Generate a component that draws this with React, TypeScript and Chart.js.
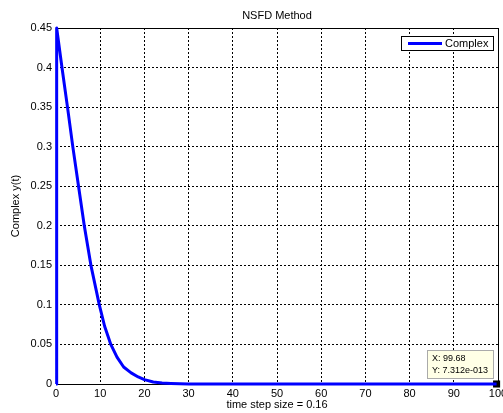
import React, { useEffect, useRef } from "react";
import { Chart, registerables } from "chart.js";

Chart.register(...registerables);

// Data
const timeValues: number[] = [0, 0.15, 1.35, 2.6, 3.8, 5.1, 6.4, 7.9, 9.8, 11, 12.4, 13.8, 15.3, 17, 18.6, 20, 22, 24, 26, 28, 30, 40, 50, 60, 70, 80, 90, 99.68];
const complexValues: number[] = [0, 0.45, 0.4, 0.35, 0.3, 0.25, 0.2, 0.15, 0.1, 0.073, 0.05, 0.034, 0.0215, 0.014, 0.0089, 0.0055, 0.0025, 0.0013, 0.0007, 0.0003, 0.0001, 0, 0, 0, 0, 0, 0, 0];
const tipPoint = { x: 99.68, y: 7.312e-13 };
const tipLines: string[] = ["X: 99.68", "Y: 7.312e-013"];
const titleText = "NSFD Method";
const xLabelText = "time step size = 0.16";
const yLabelText = "Complex y(t)";
const legendLabel = "Complex";

const FONT = "'Liberation Sans', Arial, sans-serif";

const decorPlugin = {
  id: "decor",
  beforeDatasetsDraw(chart: any) {
    const { ctx, chartArea } = chart;
    ctx.save();
    ctx.strokeStyle = "#000";
    ctx.lineWidth = 1;
    ctx.setLineDash([]);
    ctx.strokeRect(Math.round(chartArea.left) + 0.5, Math.round(chartArea.top) + 0.5,
      Math.round(chartArea.right - chartArea.left), Math.round(chartArea.bottom - chartArea.top));
    ctx.restore();
  },
  afterDraw(chart: any) {
    const { ctx, chartArea } = chart;
    const xs = chart.scales.x;
    const ys = chart.scales.y;
    const cx = (chartArea.left + chartArea.right) / 2;
    ctx.save();
    ctx.fillStyle = "#000";
    ctx.font = `11px ${FONT}`;
    ctx.textAlign = "center";
    ctx.textBaseline = "middle";
    ctx.fillText(titleText, cx, 16);
    ctx.fillText(xLabelText, cx, 405);
    ctx.save();
    ctx.translate(16, (chartArea.top + chartArea.bottom) / 2);
    ctx.rotate(-Math.PI / 2);
    ctx.fillText(yLabelText, 0, 0);
    ctx.restore();

    // legend
    const lx = chartArea.right - 97;
    const ly = chartArea.top + 8;
    ctx.fillStyle = "#fff";
    ctx.fillRect(lx + 0.5, ly + 0.5, 92, 14);
    ctx.strokeStyle = "#000";
    ctx.lineWidth = 1;
    ctx.strokeRect(lx + 0.5, ly + 0.5, 92, 14);
    ctx.strokeStyle = "#0000ff";
    ctx.lineWidth = 3;
    ctx.beginPath();
    ctx.moveTo(lx + 7, ly + 7.5);
    ctx.lineTo(lx + 41, ly + 7.5);
    ctx.stroke();
    ctx.fillStyle = "#000";
    ctx.textAlign = "left";
    ctx.fillText(legendLabel, lx + 44, ly + 8);

    // data tip
    const px = xs.getPixelForValue(tipPoint.x);
    const py = ys.getPixelForValue(tipPoint.y);
    const bw = 66, bh = 28;
    const bx = Math.round(px - 4 - bw);
    const by = Math.round(py - 6 - bh);
    ctx.fillStyle = "#ffffe6";
    ctx.fillRect(bx + 0.5, by + 0.5, bw, bh);
    ctx.strokeStyle = "#aaaaaa";
    ctx.lineWidth = 1;
    ctx.strokeRect(bx + 0.5, by + 0.5, bw, bh);
    ctx.fillStyle = "#000";
    ctx.font = `9px ${FONT}`;
    ctx.textAlign = "left";
    ctx.fillText(tipLines[0], bx + 5, by + 9);
    ctx.fillText(tipLines[1], bx + 5, by + 21);
    ctx.restore();
  },
};

export default function App() {
  const canvasRef = useRef<HTMLCanvasElement | null>(null);

  useEffect(() => {
    if (!canvasRef.current) return;
    const points = timeValues.map((t, i) => ({ x: t, y: complexValues[i] }));
    const chart = new Chart(canvasRef.current, {
      type: "line",
      data: {
        datasets: [
          {
            label: legendLabel,
            data: points,
            borderColor: "#0000ff",
            backgroundColor: "#0000ff",
            borderWidth: 3,
            pointRadius: 0,
            tension: 0,
            borderJoinStyle: "round",
            clip: false,
          } as any,
          {
            label: "tip",
            data: [tipPoint],
            showLine: false,
            pointStyle: "rect",
            pointRadius: 5,
            pointBackgroundColor: "#000",
            pointBorderColor: "#000",
            pointBorderWidth: 0,
            clip: false,
          } as any,
        ],
      },
      options: {
        animation: false,
        responsive: true,
        maintainAspectRatio: false,
        layout: { padding: { left: 0, right: 4, top: 28, bottom: 0 } },
        plugins: {
          legend: { display: false },
          title: { display: false },
          tooltip: { enabled: false },
        },
        scales: {
          x: {
            type: "linear",
            min: 0,
            max: 100,
            ticks: {
              stepSize: 10,
              color: "#000",
              padding: 3,
              maxRotation: 0,
              font: { family: FONT, size: 11 },
              callback: (v: any) => String(Math.round(Number(v))),
            },
            grid: { color: "#000", lineWidth: 1, drawTicks: false },
            border: { display: false, dash: [2, 2] },
            afterFit: (scale: any) => {
              scale.height = 29;
              scale.paddingLeft = 0;
              scale.paddingRight = 0;
            },
          },
          y: {
            type: "linear",
            min: 0,
            max: 0.45,
            ticks: {
              stepSize: 0.05,
              color: "#000",
              padding: 4,
              font: { family: FONT, size: 11 },
              callback: (v: any) => String(Number(Number(v).toFixed(2))),
            },
            grid: { color: "#000", lineWidth: 1, drawTicks: false },
            border: { display: false, dash: [2, 2] },
            afterFit: (scale: any) => {
              scale.width = 56;
              scale.paddingTop = 0;
              scale.paddingBottom = 0;
            },
          },
        },
      },
      plugins: [decorPlugin],
    });
    return () => chart.destroy();
  }, []);

  return (
    <div style={{ position: "absolute", left: 0, top: 0, width: 503, height: 413, background: "#fff" }}>
      <canvas ref={canvasRef} />
    </div>
  );
}
